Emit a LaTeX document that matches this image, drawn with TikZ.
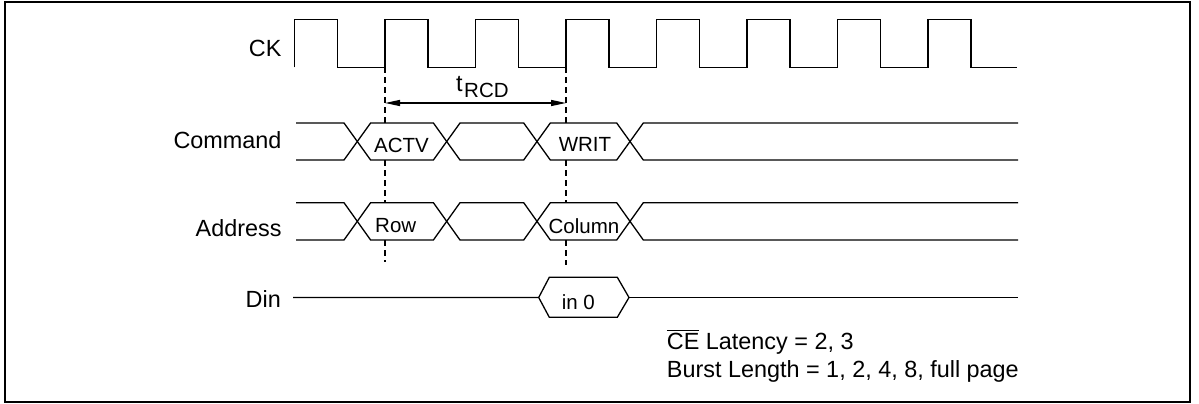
\documentclass[tikz,border=0pt]{standalone}
\usepackage{fontspec}
\setmainfont{Liberation Sans}
\usetikzlibrary{arrows.meta}
\newcommand\myoverbar[1]{\setbox0=\hbox{#1}\rlap{\raisebox{\dimexpr\ht0+1.5pt\relax}{\rule{\wd0}{1.2pt}}}\box0\relax}
\begin{document}
\begin{tikzpicture}[x=1pt,y=-1pt,
  wave/.style={line width=1.3pt, line join=miter},
  guide/.style={line width=1.1pt, dash pattern=on 6pt off 4pt},
  dimline/.style={line width=1.3pt, {Triangle[length=15pt,width=6pt]}-{Triangle[length=15pt,width=6pt]}},
  siglabel/.style={anchor=base east, inner sep=0pt, font=\fontsize{23.4}{28}\selectfont},
  buslabel/.style={inner sep=0pt, font=\fontsize{20.5}{24}\selectfont},
  note/.style={anchor=base west, inner sep=0pt, font=\fontsize{23.4}{28}\selectfont}]
\useasboundingbox (0,0) rectangle (1199,404);
\draw[line width=1.5pt] (5,2) rectangle (1190,402);

% signal names
\node[siglabel] (ck)   at (281.7,56.7)  {CK};
\node[siglabel] (cmd)  at (281.7,148.3) {Command};
\node[siglabel] (addr) at (281.7,236.5) {Address};
\node[siglabel] (din)  at (281.0,307.3) {Din};

% clock
\draw[wave] (294.5,67.3)
  foreach \k in {0,...,7} {
    -- ({294.5+90.5*\k},67.3) -- ({294.5+90.5*\k},19.3)
    -- ({337.5+90.5*\k},19.3) -- ({337.5+90.5*\k},67.3) }
  -- (1017,67.3);

% command bus
\def\ca{357.3}\def\cb{446.7}\def\cc{537}\def\cd{630}\def\hw{13.3}
\draw[wave] (296,123) -- ({\ca-\hw},123) -- ({\ca+\hw},160) -- ({\cb-\hw},160) -- ({\cb+\hw},123)
  -- ({\cc-\hw},123) -- ({\cc+\hw},160) -- ({\cd-\hw},160) -- ({\cd+\hw},123) -- (1018,123);
\draw[wave] (296,160) -- ({\ca-\hw},160) -- ({\ca+\hw},123) -- ({\cb-\hw},123) -- ({\cb+\hw},160)
  -- ({\cc-\hw},160) -- ({\cc+\hw},123) -- ({\cd-\hw},123) -- ({\cd+\hw},160) -- (1018,160);
% address bus
\draw[wave] (296,202.7) -- ({\ca-\hw},202.7) -- ({\ca+\hw},240) -- ({\cb-\hw},240) -- ({\cb+\hw},202.7)
  -- ({\cc-\hw},202.7) -- ({\cc+\hw},240) -- ({\cd-\hw},240) -- ({\cd+\hw},202.7) -- (1018,202.7);
\draw[wave] (296,240) -- ({\ca-\hw},240) -- ({\ca+\hw},202.7) -- ({\cb-\hw},202.7) -- ({\cb+\hw},240)
  -- ({\cc-\hw},240) -- ({\cc+\hw},202.7) -- ({\cd-\hw},202.7) -- ({\cd+\hw},240) -- (1018,240);
% Din
\draw[wave] (293,297.5) -- (538.7,297.5) -- (549.3,277.3) -- (617.3,277.3) -- (629,297.5)
  -- (617.3,317.3) -- (549.3,317.3) -- (538.7,297.5);
\draw[wave] (629,297.5) -- (1018,297.5);

% bus contents
\node[buslabel, anchor=base west] (actv) at (374,152.7) {ACTV};
\node[buslabel, anchor=base] (writ) at (585,151.7) {WRIT};
\node[buslabel, anchor=base west] (row) at (375,232.3) {Row};
\node[buslabel, anchor=base] (col) at (584,233.3) {Column};
\node[buslabel, anchor=base] (in0) at (578.3,309.3) {in 0};

% reference lines
\coordinate (g1a) at (385,67.3);   \coordinate (g1b) at (385,123);
\coordinate (g1c) at (385,160);    \coordinate (g1d) at (385,202.7);
\coordinate (g1e) at (385,240);    \coordinate (g1f) at (385,262);
\coordinate (g2a) at (566,67.3);   \coordinate (g2b) at (566,123);
\coordinate (g2c) at (566,160);    \coordinate (g2d) at (566,202.7);
\coordinate (g2e) at (566,240);    \coordinate (g2f) at (566,265);
\draw[guide] (g1a) -- (g1b) (g1c) -- (g1d) (g1e) -- (g1f);
\draw[guide] (g2a) -- (g2b) (g2c) -- (g2d) (g2e) -- (g2f);

\coordinate (arL) at (385,103);
\coordinate (arR) at (566,103);
\draw[dimline] (arL) -- (arR);
\node[anchor=base west, inner sep=0pt, font=\fontsize{23.4}{28}\selectfont] (trcd) at (456,91)
  {t\kern1.5pt\raisebox{-6.3pt}{\fontsize{20.5}{24}\selectfont RCD}};

% notes
\node[note] (lat) at (666.7,349.3) {\myoverbar{CE} Latency = 2, 3};
\node[note] (bl)  at (666.7,377.3) {Burst Length = 1, 2, 4, 8, full page};
\end{tikzpicture}
\end{document}
